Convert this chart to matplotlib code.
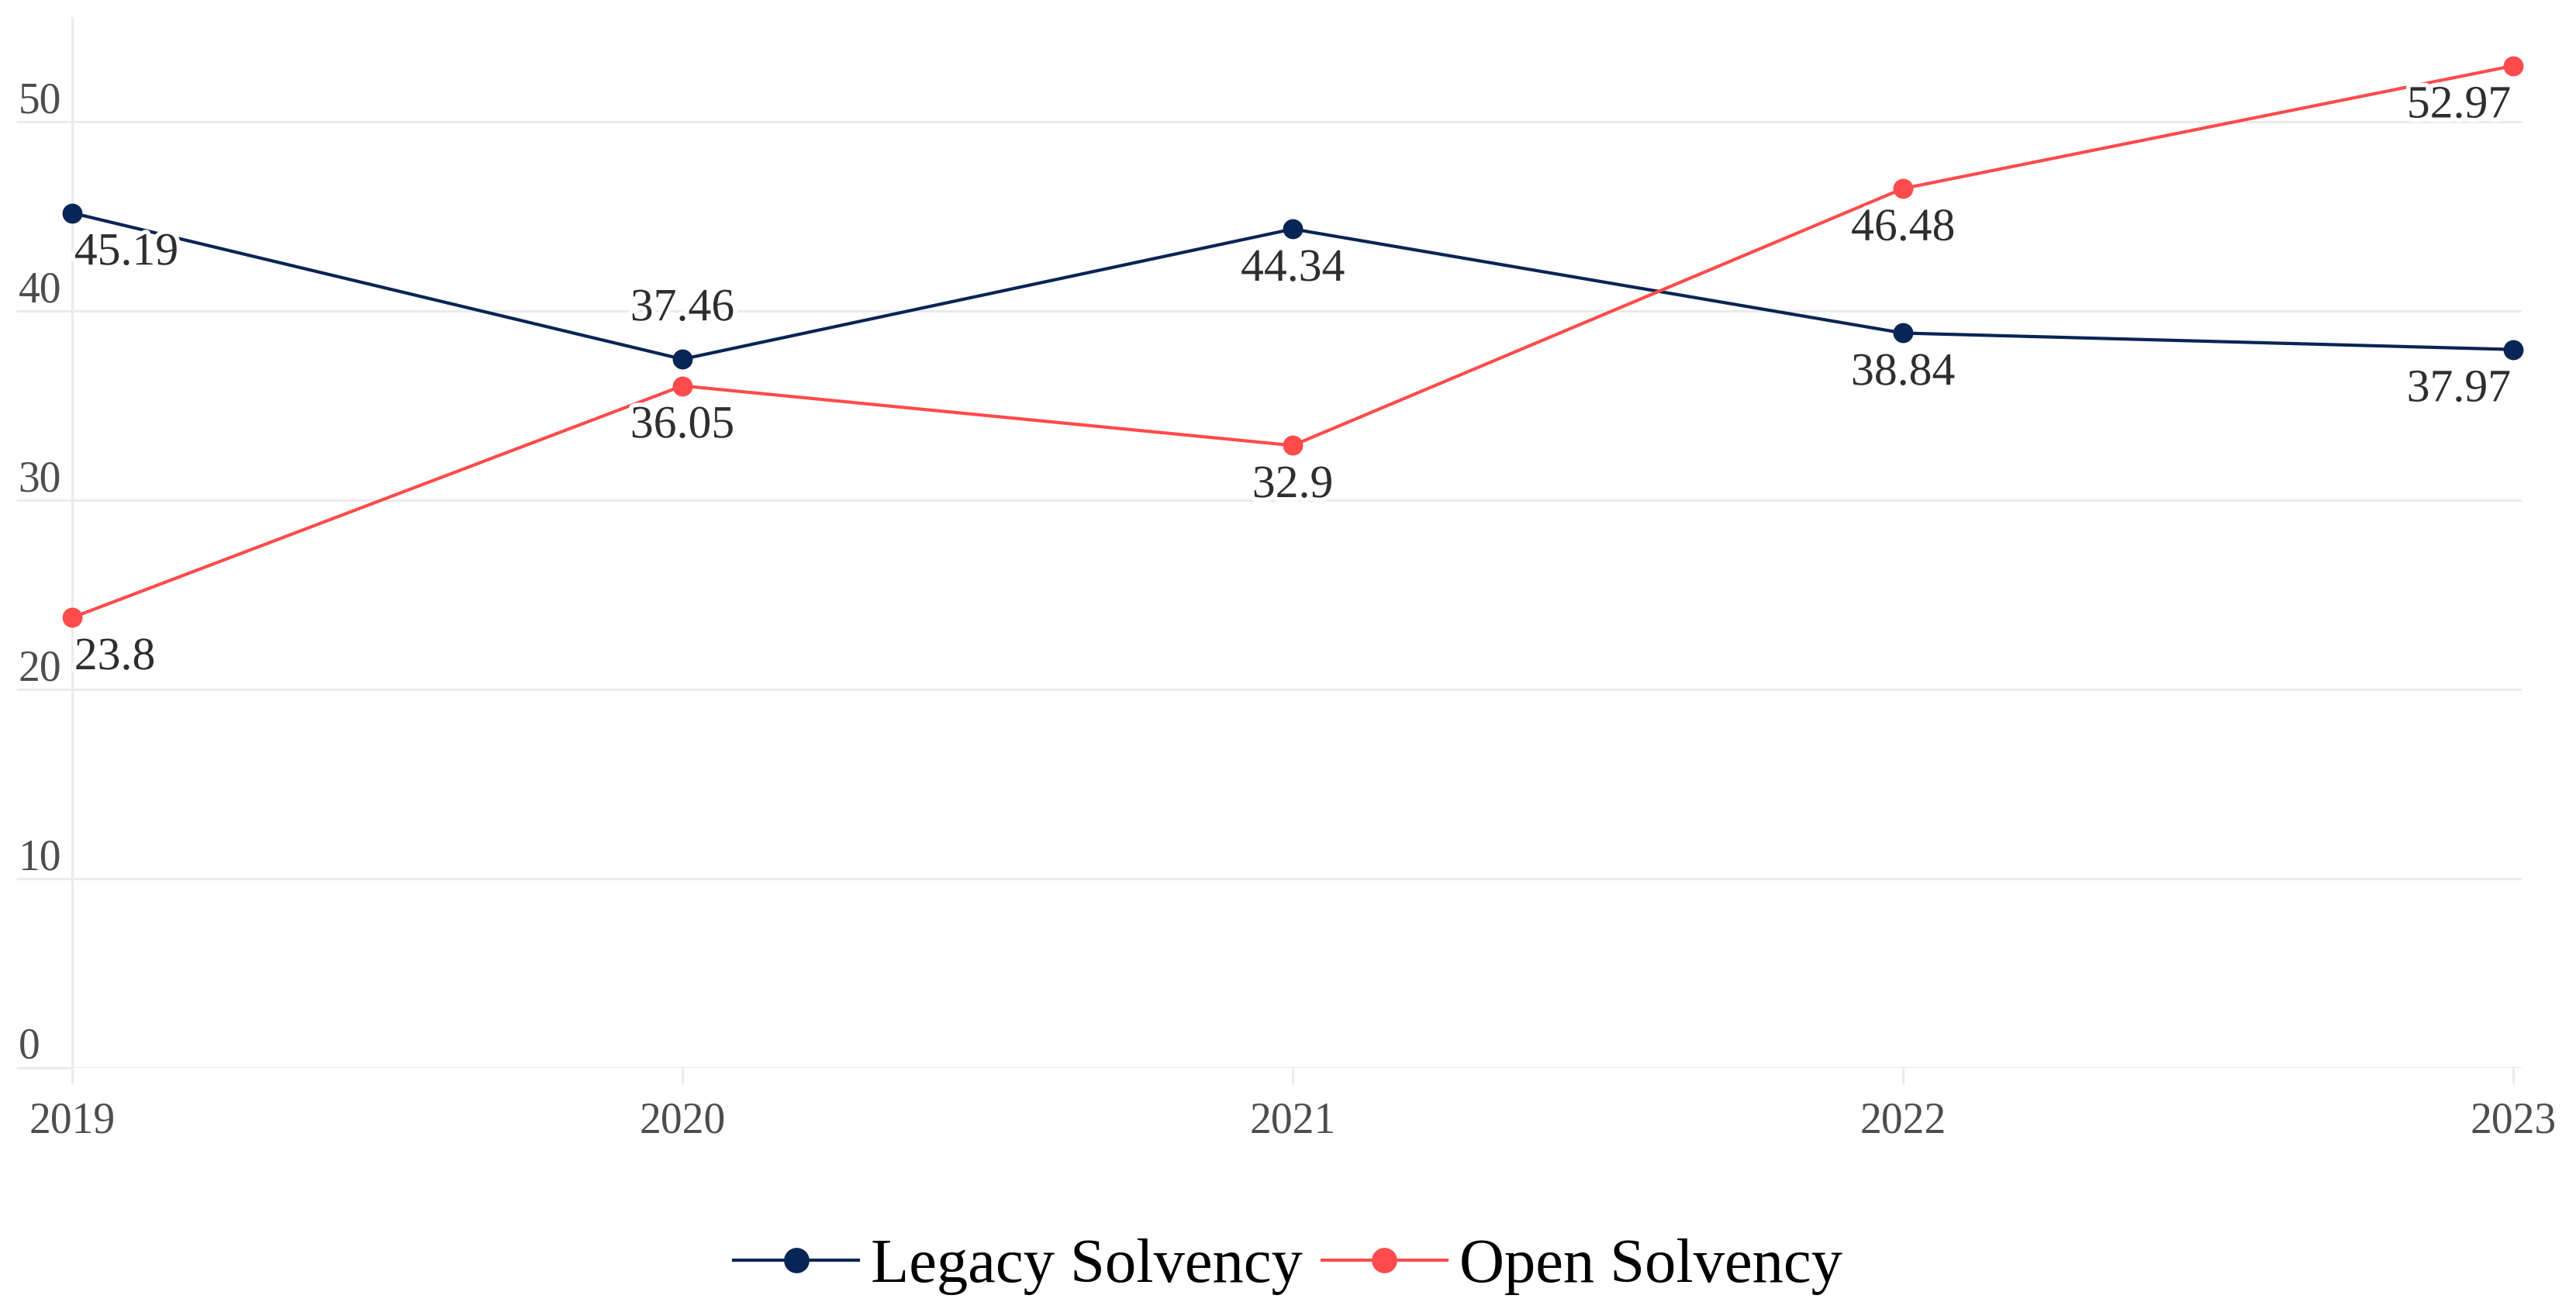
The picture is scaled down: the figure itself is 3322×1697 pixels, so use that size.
import matplotlib
matplotlib.use("Agg")
import matplotlib.pyplot as plt
import matplotlib.patheffects as pe

years = [2019, 2020, 2021, 2022, 2023]
legacy = [45.19, 37.46, 44.34, 38.84, 37.97]
open_s = [23.8, 36.05, 32.9, 46.48, 52.97]
series_names = ["Legacy Solvency", "Open Solvency"]
colors = ["#072555", "#FF4B4B"]
legacy_pos = ["below", "above", "below", "below", "below"]
open_pos = ["below", "below", "below", "below", "below"]
yticks = [0, 10, 20, 30, 40, 50]

plt.rcParams['font.family'] = ['Liberation Serif', 'DejaVu Serif']

fig = plt.figure(figsize=(16.61, 8.485), dpi=200)
ax = fig.add_axes([0.028, 0.1886, 0.979 - 0.028, 0.9864 - 0.1886])

grid_c = "#ebebeb"
ax.set_xlim(2019, 2023.014)
ax.set_ylim(0, 55.5)
ax.set_yticks(yticks)
ax.set_xticks(years)
ax.set_xticklabels([str(y) for y in years])
ax.grid(axis='y', color=grid_c, linewidth=1.1, zorder=0)
ax.set_axisbelow(True)
for s in ['top', 'right', 'bottom']:
    ax.spines[s].set_visible(False)
ax.spines['left'].set_color(grid_c)
ax.spines['left'].set_linewidth(1.1)

ax.tick_params(axis='x', length=7.5, width=1.1, color=grid_c, labelsize=20,
               labelcolor="#4d4d4d", pad=8)
ax.tick_params(axis='y', length=26, width=1.1, color=grid_c, labelsize=20,
               labelcolor="#4d4d4d", pad=-1)
for lab in ax.get_yticklabels():
    lab.set_horizontalalignment('left')
    lab.set_verticalalignment('bottom')

halo = [pe.withStroke(linewidth=4, foreground='white')]

for vals, name, col, poss in [(legacy, series_names[0], colors[0], legacy_pos),
                              (open_s, series_names[1], colors[1], open_pos)]:
    ax.plot(years, vals, color=col, linewidth=1.5, marker='o', markersize=8.3,
            label=name, zorder=3, clip_on=False)
    for i, (x, v, p) in enumerate(zip(years, vals, poss)):
        if i == 0:
            ha, dx = 'left', 1
        elif i == len(years) - 1:
            ha, dx = 'right', -1
        else:
            ha, dx = 'center', 0
        dy = 18 if p == 'above' else -24
        ax.annotate(f"{v:g}", (x, v), xytext=(dx, dy), textcoords='offset points',
                    ha=ha, va='baseline', fontsize=21.5, color="#2e2e2e",
                    path_effects=halo, zorder=4, annotation_clip=False)

leg = fig.legend(loc='center', bbox_to_anchor=(0.5, 0.0377), ncol=2, frameon=False,
                 fontsize=29, handlelength=2.0, handletextpad=0.2, columnspacing=0.3,
                 markerscale=1.3)
for t in leg.get_texts():
    t.set_color('black')

fig.savefig("out.png", dpi=200, facecolor='white')
